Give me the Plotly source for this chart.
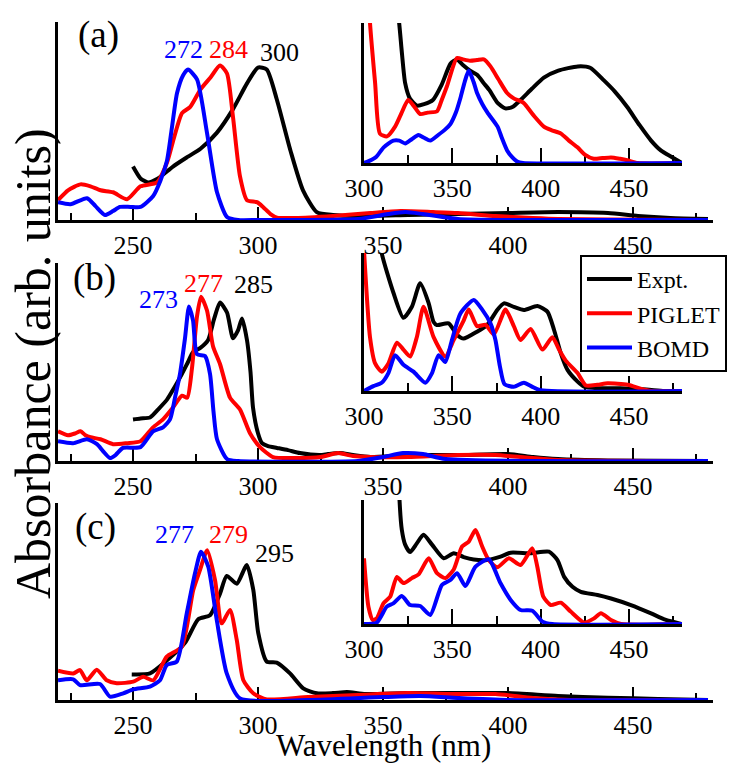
import plotly.graph_objects as go

# ---------------- spectra (wavelength in nm, absorbance in arb. units) ----------------
# Panel (a), full range
expt_a_x = [250, 253, 256, 260, 266, 272, 277, 283.5, 290, 295.6, 300, 303.5, 307.5, 313, 318, 323.5,
            330, 340, 360, 380, 400, 420, 440, 452, 465, 480]
expt_a_y = [0.27, 0.21, 0.19, 0.21, 0.27, 0.32, 0.36, 0.44, 0.56, 0.69, 0.77, 0.76, 0.61, 0.35, 0.15, 0.04,
            0.025, 0.02, 0.025, 0.03, 0.035, 0.04, 0.035, 0.02, 0.01, 0.005]
piglet_a_x = [220, 224, 229, 233, 237, 242, 247.6, 253, 259.6, 263.6, 266.5, 269.6, 272.8, 277, 281, 284.8,
              287.6, 290, 292.8, 295.6, 299.6, 302, 305, 307.6, 315, 330, 345, 357, 370, 380, 395, 410,
              420, 440, 480]
piglet_a_y = [0.10, 0.15, 0.18, 0.17, 0.15, 0.14, 0.105, 0.17, 0.19, 0.29, 0.42, 0.54, 0.57, 0.66, 0.72, 0.78,
              0.74, 0.52, 0.22, 0.10, 0.09, 0.066, 0.03, 0.012, 0.01, 0.02, 0.035, 0.045, 0.04, 0.035, 0.02,
              0.01, 0.005, 0.003, 0.0]
bomd_a_x = [220, 225, 231.6, 235, 238.8, 242, 244.8, 249, 253, 258, 261, 263.6, 265.6, 267.6, 270, 272,
            275.6, 279.6, 283.6, 287.6, 292, 300, 340, 352, 359, 366, 380, 400, 480]
bomd_a_y = [0.09, 0.08, 0.11, 0.07, 0.025, 0.045, 0.066, 0.066, 0.066, 0.12, 0.2, 0.30, 0.47, 0.64, 0.73, 0.76,
            0.71, 0.44, 0.14, 0.015, 0.0, 0.0, 0.005, 0.03, 0.04, 0.03, 0.005, 0.0, 0.0]

# Panel (a), 300-480 nm inset
expt_ia_x = [316, 319.9, 321.5, 323.3, 326, 330, 334, 339, 344, 349, 352.6, 356, 360, 364, 367.8, 371,
             375.6, 380, 384, 388.6, 395, 401.8, 410, 421, 428, 435.8, 442, 449, 456, 462.5, 468, 473.9, 480]
expt_ia_y = [1.4, 1.0, 0.78, 0.57, 0.46, 0.41, 0.42, 0.45, 0.56, 0.71, 0.74, 0.70, 0.66, 0.63, 0.57, 0.52,
             0.43, 0.39, 0.40, 0.45, 0.53, 0.61, 0.66, 0.69, 0.68, 0.59, 0.51, 0.40, 0.27, 0.16, 0.09, 0.045, 0.0]
piglet_ia_x = [301.5, 303.4, 306.3, 309, 313, 317.6, 321, 325, 328, 331.8, 336, 341.4, 344, 347, 352.6, 356,
               360, 364, 367.8, 371.6, 376, 381, 385, 390.3, 396, 401.8, 406, 411.5, 416, 421, 425, 430,
               435, 439.8, 445, 449, 455, 480]
piglet_ia_y = [1.5, 1.0, 0.57, 0.21, 0.19, 0.26, 0.35, 0.45, 0.41, 0.35, 0.36, 0.37, 0.45, 0.55, 0.75, 0.74,
               0.73, 0.735, 0.74, 0.69, 0.60, 0.50, 0.46, 0.43, 0.34, 0.26, 0.235, 0.21, 0.16, 0.11, 0.06, 0.03,
               0.035, 0.04, 0.03, 0.02, 0.0, 0.0]
bomd_ia_x = [300, 303, 307, 311, 316.6, 320, 323.3, 327, 330.8, 334, 337.5, 342, 346, 349, 352, 354.7, 357,
             359.3, 362, 364, 367, 369.9, 375.6, 378, 381, 384, 386.7, 390, 480]
bomd_ia_y = [0.0, 0.015, 0.045, 0.11, 0.16, 0.16, 0.14, 0.17, 0.2, 0.18, 0.16, 0.2, 0.24, 0.28, 0.36, 0.47, 0.58,
             0.66, 0.58, 0.5, 0.42, 0.36, 0.26, 0.18, 0.09, 0.04, 0.01, 0.0, 0.0]

# Panel (b), full range
expt_b_x = [250, 253, 256.8, 260, 263.6, 266.5, 269.6, 272, 274, 276.8, 280, 282.5, 284.8, 287.6, 290, 292,
            293.6, 295.6, 297, 298, 300, 301.6, 304, 307.6, 312, 316.8, 324.8, 328, 332.8, 338, 345, 360,
            380, 400, 410, 420, 440, 480]
expt_b_y = [0.21, 0.215, 0.22, 0.26, 0.31, 0.37, 0.44, 0.50, 0.55, 0.57, 0.61, 0.72, 0.80, 0.75, 0.62, 0.66,
            0.72, 0.61, 0.45, 0.27, 0.14, 0.09, 0.075, 0.066, 0.055, 0.04, 0.03, 0.035, 0.04, 0.03, 0.02, 0.03,
            0.03, 0.035, 0.02, 0.01, 0.003, 0.0]
piglet_b_x = [220, 224, 227, 229, 231, 233, 237, 242, 247.6, 253, 258, 262, 266, 269.6, 271.7, 273.6, 275.6,
              277.2, 279.6, 282, 284.8, 288.8, 292.8, 296.8, 300.8, 306, 315, 325, 332, 338, 345, 360, 380,
              395, 405, 420, 480]
piglet_b_y = [0.15, 0.13, 0.14, 0.15, 0.13, 0.12, 0.11, 0.085, 0.09, 0.10, 0.17, 0.21, 0.27, 0.33, 0.32, 0.47,
              0.73, 0.83, 0.76, 0.58, 0.49, 0.32, 0.26, 0.14, 0.07, 0.02, 0.015, 0.02, 0.04, 0.025, 0.02, 0.02,
              0.03, 0.03, 0.02, 0.005, 0.0]
bomd_b_x = [220, 226, 231.6, 235.6, 238, 240.8, 243, 246, 253, 258, 262, 264.8, 266.8, 268.8, 270.8, 272.4,
            274, 275.6, 278.8, 280.8, 282.2, 283.6, 287.6, 292, 340, 350, 358, 366, 375, 480]
bomd_b_y = [0.10, 0.09, 0.11, 0.085, 0.05, 0.015, 0.03, 0.066, 0.07, 0.15, 0.17, 0.21, 0.32, 0.44, 0.62, 0.78,
            0.71, 0.54, 0.53, 0.44, 0.25, 0.11, 0.01, 0.0, 0.0, 0.02, 0.04, 0.035, 0.01, 0.0]

# Panel (b), 300-480 nm inset
expt_ib_x = [307, 310, 316.7, 322.3, 327.1, 331.8, 336.5, 339.4, 341.3, 347.9, 352.7, 356.4, 364, 369.7,
             375.4, 379.2, 384.8, 390.5, 398.1, 403.8, 407.6, 411.4, 415.2, 420.9, 424.6, 432, 445, 460, 470, 480]
expt_ib_y = [1.3, 1.0, 0.71, 0.53, 0.61, 0.78, 0.64, 0.5, 0.478, 0.49, 0.406, 0.38, 0.43, 0.478, 0.587, 0.635,
             0.61, 0.587, 0.616, 0.575, 0.442, 0.273, 0.153, 0.068, 0.031, 0.02, 0.02, 0.01, 0.0, 0.0]
piglet_ib_x = [300, 303.4, 306.3, 310, 313.8, 318.6, 322.3, 326.1, 329.9, 333.7, 339.4, 346, 350.8, 356.4,
               359.3, 364, 368.8, 373.5, 380.1, 384.8, 388.6, 394.3, 401, 406.6, 410.4, 414.2, 420.9, 425.6,
               432.2, 437.9, 449.3, 457, 462.5, 480]
piglet_ib_y = [1.02, 0.39, 0.20, 0.14, 0.20, 0.35, 0.30, 0.25, 0.39, 0.61, 0.39, 0.25, 0.37, 0.51, 0.59, 0.47,
               0.48, 0.41, 0.59, 0.47, 0.37, 0.45, 0.30, 0.39, 0.30, 0.22, 0.13, 0.04, 0.045, 0.056, 0.045,
               0.015, 0.0, 0.0]
bomd_ib_x = [300, 305.3, 310, 313.8, 317.6, 322.3, 328, 334.7, 338.5, 342.2, 346, 349.8, 354.5, 362.1, 366.9,
             371.6, 374.4, 376.9, 379.5, 384.8, 390.5, 395.3, 400, 480]
bomd_ib_y = [0.0, 0.035, 0.06, 0.13, 0.26, 0.19, 0.14, 0.06, 0.13, 0.26, 0.21, 0.37, 0.56, 0.66, 0.59, 0.49,
             0.37, 0.18, 0.05, 0.03, 0.06, 0.03, 0.005, 0.0]

# Panel (c), full range
expt_c_x = [249.5, 256.8, 263.5, 270.8, 276.1, 280.8, 284.8, 287.5, 291.5, 295.5, 298.1, 300.1, 303.5, 307.5,
            312.8, 318.1, 323.5, 330, 335.6, 343, 360, 380, 400, 420, 440, 460, 480]
expt_c_y = [0.13, 0.135, 0.20, 0.29, 0.41, 0.43, 0.54, 0.63, 0.59, 0.685, 0.56, 0.34, 0.195, 0.19, 0.135,
            0.059, 0.034, 0.035, 0.04, 0.03, 0.035, 0.035, 0.035, 0.02, 0.012, 0.005, 0.0]
piglet_c_x = [220, 226.1, 228.8, 231.5, 235.5, 239.5, 243.5, 250.1, 254.1, 258.1, 263.5, 269.5, 274.1, 276.8,
              279.7, 282.8, 285.5, 288.8, 291.5, 294.1, 298.1, 303.5, 320, 340, 360, 380, 395, 410, 425, 480]
piglet_c_y = [0.149, 0.135, 0.152, 0.10, 0.154, 0.10, 0.085, 0.093, 0.118, 0.10, 0.22, 0.27, 0.558, 0.66, 0.76,
              0.609, 0.389, 0.457, 0.305, 0.102, 0.034, 0.003, 0.015, 0.025, 0.035, 0.03, 0.03, 0.01, 0.0, 0.0]
bomd_c_x = [220, 226.1, 228.8, 236.8, 240.8, 246.1, 250.1, 256.8, 260.8, 263.5, 267.5, 271.5, 274.8, 277.2,
            280.1, 283.5, 287.5, 292.8, 320, 350, 365, 380, 400, 480]
bomd_c_y = [0.10, 0.105, 0.076, 0.081, 0.017, 0.034, 0.054, 0.068, 0.10, 0.178, 0.195, 0.44, 0.643, 0.753,
            0.677, 0.406, 0.135, 0.008, 0.0, 0.015, 0.02, 0.01, 0.0, 0.0]

# Panel (c), 300-480 nm inset
expt_ic_x = [319.5, 320.1, 321.4, 323.3, 326.1, 329.9, 333.7, 338.5, 345.1, 350.8, 356.4, 362.1, 369.7, 377.3,
             383, 394.3, 404.7, 409.5, 413.3, 418, 422.7, 432.2, 439.8, 451.1, 462.5, 470, 474.8, 479.5]
expt_ic_y = [1.3, 1.0, 0.76, 0.64, 0.58, 0.65, 0.72, 0.64, 0.53, 0.57, 0.54, 0.52, 0.516, 0.543, 0.575, 0.57,
             0.583, 0.516, 0.38, 0.30, 0.26, 0.234, 0.206, 0.153, 0.086, 0.038, 0.019, 0.0]
piglet_ic_x = [300, 302.5, 304.9, 307.2, 311, 314.8, 318.6, 322.3, 327.1, 330.9, 336.6, 341.3, 346, 350.8,
               355.5, 359.3, 363.1, 366.9, 370.6, 375.4, 382, 388.6, 395.3, 398.1, 401.5, 405.7, 411.4, 417,
               424.6, 430.3, 434.1, 439.8, 445.5, 480]
piglet_ic_y = [0.53, 0.14, 0.032, 0.045, 0.167, 0.22, 0.38, 0.33, 0.37, 0.40, 0.53, 0.41, 0.37, 0.44, 0.625,
               0.665, 0.758, 0.625, 0.516, 0.457, 0.53, 0.476, 0.61, 0.462, 0.22, 0.153, 0.172, 0.10, 0.011,
               0.046, 0.086, 0.032, 0.0, 0.0]
bomd_ic_x = [300, 307.2, 312.9, 316.6, 321.4, 326.1, 331.8, 337.5, 344.1, 348.9, 352.7, 357.4, 363.1, 370.6,
             377.3, 383, 388.6, 395.3, 401, 406.6, 480]
bomd_ic_y = [0.0, 0.011, 0.14, 0.166, 0.226, 0.153, 0.145, 0.073, 0.315, 0.355, 0.41, 0.306, 0.462, 0.522,
             0.328, 0.194, 0.113, 0.107, 0.019, 0.0, 0.0]

# Peak wavelength labels per panel: (text, colour key, x in nm, y in axis units)
peak_labels_a = [("272", "BOMD", 270.0, 0.859), ("284", "PIGLET", 288.0, 0.859), ("300", "Expt.", 308.4, 0.848)]
peak_labels_b = [("273", "BOMD", 260.0, 0.818), ("277", "PIGLET", 278.0, 0.899), ("285", "Expt.", 298.0, 0.889)]
peak_labels_c = [("277", "BOMD", 266.4, 0.838), ("279", "PIGLET", 288.0, 0.838), ("295", "Expt.", 306.4, 0.746)]

main_ticks = [250, 300, 350, 400, 450]
main_minor = [225, 275, 325, 375, 425, 475]
inset_ticks = [300, 350, 400, 450]
inset_minor = [325, 375, 425, 475]

series_names = ["Expt.", "PIGLET", "BOMD"]
colors = {"Expt.": "#000000", "PIGLET": "#ff0000", "BOMD": "#0000ff"}

FONT = "Liberation Serif"
W, H = 730, 764

# ---------------- layout geometry (pixels) ----------------
main_x_px = (58, 713)
inset_x_px = (364, 682)
main_y_px = [(22, 220), (263, 461), (503, 700)]
inset_y_px = [(23, 163), (253, 391), (500, 624)]


def px_x(a, b):
    return [a / W, b / W]


def px_y(top, bottom):
    return [1 - bottom / H, 1 - top / H]


fig = go.Figure()

panels = [
    ((expt_a_x, expt_a_y), (piglet_a_x, piglet_a_y), (bomd_a_x, bomd_a_y)),
    ((expt_b_x, expt_b_y), (piglet_b_x, piglet_b_y), (bomd_b_x, bomd_b_y)),
    ((expt_c_x, expt_c_y), (piglet_c_x, piglet_c_y), (bomd_c_x, bomd_c_y)),
]
insets = [
    ((expt_ia_x, expt_ia_y), (piglet_ia_x, piglet_ia_y), (bomd_ia_x, bomd_ia_y)),
    ((expt_ib_x, expt_ib_y), (piglet_ib_x, piglet_ib_y), (bomd_ib_x, bomd_ib_y)),
    ((expt_ic_x, expt_ic_y), (piglet_ic_x, piglet_ic_y), (bomd_ic_x, bomd_ic_y)),
]

LW = 4


def add_series(series, axis_idx, legend):
    sfx = "" if axis_idx == 1 else str(axis_idx)
    for name, (xs, ys) in zip(series_names, series):
        fig.add_trace(go.Scatter(
            x=xs, y=ys, mode="lines", name=name,
            line=dict(color=colors[name], width=LW, shape="spline", smoothing=0.6),
            xaxis="x" + sfx, yaxis="y" + sfx,
            showlegend=legend, legendrank={"Expt.": 1, "PIGLET": 2, "BOMD": 3}[name],
            hoverinfo="skip",
        ))


for i, s in enumerate(panels):
    add_series(s, i + 1, legend=(i == 0))
for i, s in enumerate(insets):
    add_series(s, i + 4, legend=False)

tick_font = dict(family=FONT, size=26, color="black")


def xaxis_cfg(rng, dom, ticks, minor, anchor, ticklen, minorlen):
    return dict(
        domain=dom, range=rng, anchor=anchor, showgrid=False, zeroline=False,
        showline=True, linecolor="black", linewidth=2.5, mirror=False,
        ticks="inside", tickmode="array", tickvals=ticks, ticktext=[str(t) for t in ticks],
        ticklen=ticklen, tickwidth=2.2, tickcolor="black", tickfont=tick_font,
        minor=dict(tickmode="array", tickvals=minor, ticks="inside", ticklen=minorlen,
                   tickwidth=2.2, tickcolor="black"),
        layer="below traces", fixedrange=True,
    )


def yaxis_cfg(dom, anchor):
    return dict(
        domain=dom, range=[0, 1], anchor=anchor, showgrid=False, zeroline=False,
        showline=True, linecolor="black", linewidth=2.8, ticks="", showticklabels=False,
        layer="below traces", fixedrange=True,
    )


layout = dict(
    width=W, height=H, margin=dict(l=0, r=0, t=0, b=0, autoexpand=False),
    paper_bgcolor="white", plot_bgcolor="rgba(0,0,0,0)",
    font=dict(family=FONT, color="black"),
    showlegend=True,
    legend=dict(
        x=580 / W, y=1 - 255 / H, xanchor="left", yanchor="top",
        bgcolor="white", bordercolor="black", borderwidth=2,
        font=dict(family=FONT, size=24, color="black"),
        itemwidth=45, tracegroupgap=0,
    ),
)

for i in range(3):
    sfx = "" if i == 0 else str(i + 1)
    top, bottom = main_y_px[i]
    layout["xaxis" + sfx] = xaxis_cfg([220, 482], px_x(*main_x_px), main_ticks, main_minor,
                                      "y" + sfx, 13, 7)
    layout["yaxis" + sfx] = yaxis_cfg(px_y(top, bottom), "x" + sfx)

for i in range(3):
    n = str(i + 4)
    top, bottom = inset_y_px[i]
    layout["xaxis" + n] = xaxis_cfg([300, 480], px_x(*inset_x_px), inset_ticks, inset_minor,
                                    "y" + n, 15, 8)
    layout["yaxis" + n] = yaxis_cfg(px_y(top, bottom), "x" + n)

annotations = []
panel_tags = [("(a)", 236.0, 0.934), ("(b)", 234.4, 0.924), ("(c)", 234.8, 0.876)]
for i, (tag, tx, ty) in enumerate(panel_tags):
    sfx = "" if i == 0 else str(i + 1)
    annotations.append(dict(text=tag, x=tx, y=ty, xref="x" + sfx, yref="y" + sfx,
                            showarrow=False, xanchor="center", yanchor="middle",
                            font=dict(family=FONT, size=37, color="black")))

for i, labels in enumerate([peak_labels_a, peak_labels_b, peak_labels_c]):
    sfx = "" if i == 0 else str(i + 1)
    for text, key, lx, ly in labels:
        annotations.append(dict(text=text, x=lx, y=ly, xref="x" + sfx, yref="y" + sfx,
                                showarrow=False, xanchor="center", yanchor="middle",
                                font=dict(family=FONT, size=26, color=colors[key])))

annotations.append(dict(text="Wavelength (nm)", x=384 / W, y=0.0, xref="paper", yref="paper",
                        showarrow=False, xanchor="center", yanchor="bottom", borderpad=0,
                        font=dict(family=FONT, size=31, color="black")))
annotations.append(dict(text="Absorbance (arb. units)", x=33 / W, y=1 - 364 / H, xref="paper",
                        yref="paper", showarrow=False, xanchor="center", yanchor="middle",
                        textangle=-90, font=dict(family=FONT, size=50, color="black")))
layout["annotations"] = annotations

fig.update_layout(**layout)
fig.write_html("out.html")
